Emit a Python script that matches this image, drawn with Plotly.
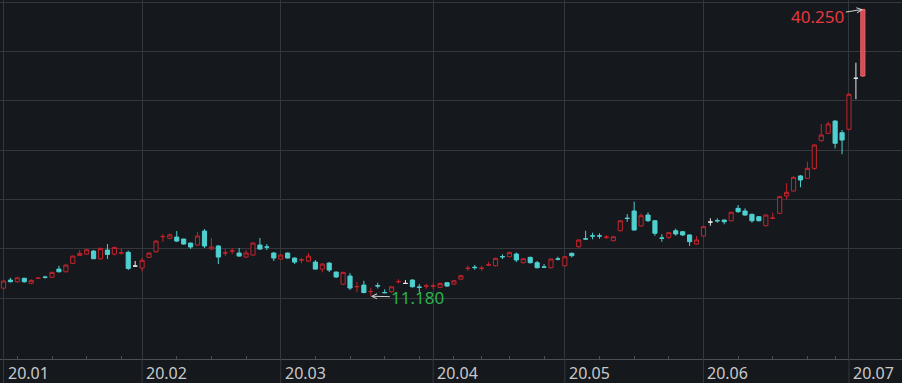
import plotly.graph_objects as go

# ---------------- data ----------------
month_labels = ["20.01", "20.02", "20.03", "20.04", "20.05", "20.06", "20.07"]
month_start = [0, 20, 40, 62, 81, 101, 122]          # trading-day index of each month's first session
week_start = [2, 7, 12, 17, 25, 30, 35, 45, 50, 55, 60, 65, 69, 73, 78,
              86, 91, 96, 106, 111, 116, 120]         # first session of each week

opens = [12.00, 12.82, 12.65, 13.00, 12.48, 13.00, 13.12, 13.10, 13.93, 13.66,
         14.51, 15.32, 15.45, 15.76, 14.98, 15.86, 15.45, 15.55, 15.63, 14.24,
         14.04, 15.12, 15.69, 17.21, 17.05, 17.18, 16.98, 16.57, 16.37, 17.79,
         15.97, 16.27, 15.56, 15.76, 15.56, 15.15, 15.35, 16.37, 16.18, 15.56,
         14.95, 15.56, 15.05, 14.85, 14.74, 14.64, 13.93, 14.54, 13.63, 12.40,
         13.23, 12.14, 12.31, 11.64, 12.26, 11.56, 11.64, 12.65, 12.48, 12.82,
         12.12, 12.21, 12.21, 12.08, 12.55, 12.41, 12.92, 14.00, 14.12, 14.00,
         14.34, 14.27, 15.20, 15.19, 15.46, 14.58, 15.12, 14.58, 14.15, 14.07,
         14.96, 14.27, 15.53, 16.20, 17.00, 17.30, 17.30, 17.15, 16.81, 17.82,
         19.10, 19.82, 18.30, 19.41, 18.83, 17.09, 17.15, 17.82, 17.72, 17.39,
         16.47, 17.29, 18.70, 18.85, 18.90, 18.83, 20.09, 19.82, 19.48, 19.24,
         18.33, 19.08, 19.58, 21.34, 21.85, 23.37, 23.13, 24.14, 26.94, 27.69,
         28.94, 27.75, 28.10, 33.27, 33.50]
highs = [12.82, 13.05, 13.15, 13.05, 12.90, 13.05, 13.25, 13.65, 14.27, 14.40,
         15.30, 15.86, 15.95, 15.85, 16.10, 16.47, 16.20, 16.03, 15.80, 14.75,
         15.05, 15.65, 16.85, 17.48, 17.55, 17.79, 17.00, 16.60, 17.69, 17.99,
         17.08, 16.37, 15.96, 16.06, 16.06, 15.86, 16.65, 17.08, 16.47, 15.66,
         15.45, 15.60, 15.10, 15.05, 15.56, 14.85, 14.54, 14.64, 13.70, 13.65,
         13.53, 12.65, 12.75, 12.04, 12.55, 11.88, 12.20, 12.89, 12.82, 12.90,
         12.42, 12.42, 12.48, 12.55, 12.60, 12.80, 13.30, 14.27, 14.34, 14.24,
         14.68, 15.10, 15.43, 15.70, 15.60, 15.05, 15.20, 14.75, 14.44, 15.00,
         15.18, 15.25, 15.60, 16.95, 17.82, 17.62, 17.56, 17.38, 17.30, 18.90,
         19.51, 20.76, 19.58, 19.69, 18.90, 17.46, 17.70, 18.03, 17.80, 17.45,
         17.28, 18.30, 19.08, 19.08, 18.95, 19.75, 20.43, 20.09, 19.55, 19.30,
         19.48, 19.65, 21.35, 22.63, 23.35, 23.47, 24.82, 26.60, 28.64, 28.87,
         29.00, 28.03, 31.75, 34.85, 40.25]
lows = [11.90, 12.58, 12.55, 12.55, 12.40, 12.95, 12.98, 13.05, 13.60, 13.60,
        14.45, 15.30, 15.40, 14.95, 14.90, 14.95, 15.32, 15.42, 13.84, 14.17,
        13.67, 15.05, 15.60, 16.70, 16.95, 16.67, 16.40, 15.97, 16.30, 16.07,
        15.86, 14.44, 15.25, 15.45, 15.20, 15.05, 15.30, 15.90, 15.86, 14.75,
        14.90, 15.00, 14.44, 14.54, 14.64, 13.90, 13.60, 13.63, 13.05, 12.35,
        11.81, 11.58, 11.47, 11.18, 11.98, 11.48, 11.55, 12.48, 12.42, 12.05,
        11.60, 11.93, 11.93, 12.00, 12.15, 12.35, 12.85, 13.74, 13.87, 13.74,
        14.27, 14.20, 14.95, 15.10, 14.64, 14.50, 14.50, 14.00, 14.04, 14.00,
        14.82, 14.20, 15.12, 16.10, 16.88, 16.95, 17.01, 16.98, 16.75, 17.75,
        18.73, 17.85, 18.23, 18.73, 17.31, 16.70, 16.98, 17.32, 17.30, 16.27,
        16.40, 17.20, 18.33, 18.63, 18.47, 18.78, 19.64, 19.34, 18.63, 18.78,
        18.25, 19.00, 19.50, 21.00, 21.78, 22.22, 23.06, 23.97, 26.84, 27.60,
        26.17, 25.57, 28.00, 31.14, 33.40]
closes = [12.72, 12.65, 13.05, 12.65, 12.79, 13.02, 13.10, 13.60, 13.66, 14.34,
          15.25, 15.52, 15.89, 14.98, 16.03, 15.42, 16.13, 15.57, 14.00, 14.24,
          14.82, 15.55, 16.77, 17.23, 17.40, 16.77, 16.47, 16.17, 17.28, 16.27,
          16.17, 15.15, 15.58, 15.78, 15.25, 15.56, 16.57, 15.96, 16.16, 15.05,
          15.35, 15.05, 14.64, 14.87, 15.25, 13.93, 14.44, 13.84, 13.13, 13.60,
          12.01, 12.16, 11.56, 11.66, 12.22, 11.54, 12.14, 12.67, 12.48, 12.14,
          12.08, 12.23, 12.23, 12.48, 12.21, 12.75, 13.26, 14.02, 14.08, 14.02,
          14.36, 15.02, 15.18, 15.60, 14.85, 14.98, 14.58, 14.07, 14.13, 14.95,
          14.94, 15.18, 15.29, 16.88, 16.98, 17.28, 17.28, 17.17, 17.21, 18.83,
          19.06, 17.89, 19.34, 18.83, 17.56, 17.06, 17.62, 17.49, 17.39, 16.71,
          16.88, 18.23, 18.70, 18.82, 18.73, 19.69, 19.75, 19.41, 18.83, 18.83,
          19.41, 19.10, 21.27, 21.71, 23.23, 22.96, 24.14, 26.51, 27.52, 28.64,
          26.68, 27.01, 31.65, 33.27, 40.25]

grid_levels = [11, 16, 21, 26, 31, 36, 41]

# ---------------- style ----------------
BG = "#15181d"
GRID = "#34373c"
AXIS = "#4c4f54"
RED = "#c4242c"
CYAN = "#4fd0d0"
WHITE = "#e6e6e6"
LAST_FILL = "#d94a52"
LAST_LINE = "#e4666c"
FONT = "Noto Sans"

n = len(opens)
idx = list(range(n))
last = idx[-1]

up = [i for i in idx if i != last and closes[i] > opens[i]]
down = [i for i in idx if i != last and closes[i] < opens[i]]
flat = [i for i in idx if i != last and closes[i] == opens[i]]


def candles(ids, line, fill):
    style = dict(line=dict(color=line, width=1), fillcolor=fill)
    return go.Candlestick(
        x=ids,
        open=[opens[i] for i in ids],
        high=[highs[i] for i in ids],
        low=[lows[i] for i in ids],
        close=[closes[i] for i in ids],
        increasing=style,
        decreasing=style,
        whiskerwidth=0,
        showlegend=False,
        hoverinfo="skip",
    )


fig = go.Figure()
fig.add_trace(candles(up, RED, BG))
fig.add_trace(candles(down, CYAN, CYAN))
fig.add_trace(candles(flat, WHITE, WHITE))
fig.add_trace(candles([last], LAST_LINE, LAST_FILL))

# extreme-value annotations
hi_i = max(idx, key=lambda i: highs[i])
lo_i = min(idx, key=lambda i: lows[i])
annotations = [
    dict(x=hi_i, y=highs[hi_i], xref="x", yref="y", text=f"{highs[hi_i]:.3f}",
         showarrow=True, ax=-45, ay=7, arrowhead=5, arrowsize=1, arrowwidth=1,
         arrowcolor="#d0d0d0", font=dict(family=FONT, size=17, color="#e53840")),
    dict(x=lo_i, y=lows[lo_i], xref="x", yref="y", text=f"{lows[lo_i]:.3f}",
         showarrow=True, ax=47, ay=1, arrowhead=5, arrowsize=1, arrowwidth=1,
         arrowcolor="#d0d0d0", font=dict(family=FONT, size=17, color="#2bb14e")),
]
for lab, m in zip(month_labels, month_start):
    annotations.append(dict(x=m, y=0, xref="x", yref="paper", text=lab,
                            showarrow=False, xanchor="left", yanchor="top",
                            xshift=2, yshift=-1,
                            font=dict(family=FONT, size=16, color="#c8c8c8")))

# month gridlines continue through the label strip
shapes = [dict(type="line", xref="x", yref="paper", x0=m, x1=m, y0=-0.08, y1=0,
               line=dict(color=GRID, width=1)) for m in month_start]

fig.update_layout(
    width=902, height=383,
    margin=dict(l=0, r=0, t=0, b=24),
    paper_bgcolor=BG, plot_bgcolor=BG,
    boxgap=0.4, boxgroupgap=0,
    hovermode=False,
    dragmode=False,
    annotations=annotations,
    shapes=shapes,
    showlegend=False,
    xaxis=dict(
        range=[-0.505, 129.65],
        tickmode="array", tickvals=month_start,
        showticklabels=False, ticks="",
        showgrid=True, gridcolor=GRID, gridwidth=1,
        zeroline=False, showline=True, linecolor=AXIS, linewidth=1,
        showspikes=False, fixedrange=True,
        rangeslider=dict(visible=False),
        minor=dict(tickmode="array", tickvals=week_start, ticks="inside",
                   ticklen=3, tickcolor=AXIS, showgrid=False),
    ),
    yaxis=dict(
        range=[4.82, 41.2027],
        tickmode="array", tickvals=grid_levels,
        showticklabels=False, ticks="",
        showgrid=True, gridcolor=GRID, gridwidth=1,
        zeroline=False, showline=False, showspikes=False, fixedrange=True,
    ),
)

fig.write_html("out.html", config={"displayModeBar": False, "staticPlot": True})
